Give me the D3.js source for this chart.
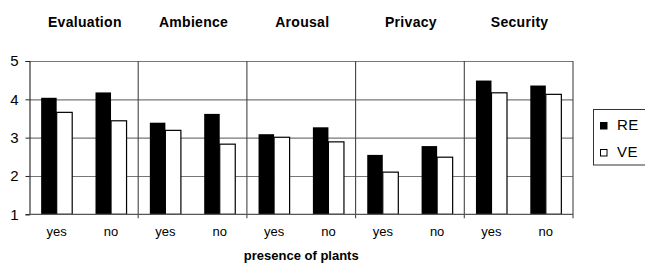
<!DOCTYPE html>
<html>
<head>
<meta charset="utf-8">
<script src="https://cdn.jsdelivr.net/npm/d3@7"></script>
<style>
  body { margin: 0; background: #fff; }
  svg { font-family: "Liberation Sans", Arial, sans-serif; }
</style>
</head>
<body>
<div id="chart"></div>
<script>
// chart data
var groups = ['Evaluation', 'Ambience', 'Arousal', 'Privacy', 'Security'];
var levels = ['yes', 'no'];
var seriesNames = ['RE', 'VE'];
var reValues = [4.04, 4.18, 3.39, 3.62, 3.09, 3.27, 2.55, 2.78, 4.49, 4.36];
var veValues = [3.66, 3.44, 3.19, 2.83, 3.01, 2.89, 2.10, 2.49, 4.17, 4.13];
var yTicks = [1, 2, 3, 4, 5];
var xTitle = 'presence of plants';

var width = 645, height = 263;
var plot = { left: 29.5, right: 573, top: 61, bottom: 214.3 };

var svg = d3.select('#chart')
  .append('svg')
  .attr('width', width)
  .attr('height', height);

var x0 = d3.scaleBand().domain(groups).range([plot.left, plot.right]);
var x1 = d3.scaleBand().domain(levels).range([0, x0.bandwidth()]);
var x2 = d3.scaleBand().domain(seriesNames).range([0, x1.bandwidth()])
  .paddingInner(0).paddingOuter(0.75);
var y = d3.scaleLinear().domain([1, 5]).range([plot.bottom, plot.top]);

// flatten into one row per bar
var rows = [];
groups.forEach(function(g, gi) {
  levels.forEach(function(l, li) {
    var i = gi * levels.length + li;
    rows.push({ group: g, level: l, series: 'RE', value: reValues[i] });
    rows.push({ group: g, level: l, series: 'VE', value: veValues[i] });
  });
});

// horizontal gridlines
var grid = svg.append('g')
  .attr('transform', 'translate(' + plot.left + ',0)')
  .call(d3.axisLeft(y).tickValues(yTicks.slice(1)).tickSize(-(plot.right - plot.left)).tickFormat(''));
grid.select('.domain').remove();
grid.selectAll('line').attr('stroke', '#777').attr('stroke-width', 1.2);

// vertical separators between groups (and right edge)
svg.append('g').selectAll('line')
  .data(groups)
  .enter()
  .append('line')
  .attr('x1', function(d) { return x0(d) + x0.bandwidth(); })
  .attr('x2', function(d) { return x0(d) + x0.bandwidth(); })
  .attr('y1', plot.top)
  .attr('y2', plot.bottom + 4)
  .attr('stroke', '#444')
  .attr('stroke-width', 1.1);

// bars
svg.append('g').selectAll('rect')
  .data(rows)
  .enter()
  .append('rect')
  .attr('x', function(d) { return x0(d.group) + x1(d.level) + x2(d.series); })
  .attr('width', x2.bandwidth())
  .attr('y', function(d) { return y(d.value); })
  .attr('height', function(d) { return y(1) - y(d.value); })
  .attr('fill', function(d) { return d.series === 'RE' ? '#000' : '#fff'; })
  .attr('stroke', '#000')
  .attr('stroke-width', function(d) { return d.series === 'RE' ? 0 : 1.2; });

// y axis
var yAxis = svg.append('g')
  .attr('transform', 'translate(' + plot.left + ',0)')
  .call(d3.axisLeft(y).tickValues(yTicks).tickSize(4).tickPadding(7).tickFormat(d3.format('d')));
yAxis.select('.domain').attr('stroke', '#222').attr('stroke-width', 1.1);
yAxis.selectAll('line').attr('stroke', '#222');
yAxis.selectAll('text')
  .style('font-size', '15px')
  .attr('fill', '#000');

// bottom axis line
svg.append('line')
  .attr('x1', plot.left).attr('x2', plot.right)
  .attr('y1', plot.bottom).attr('y2', plot.bottom)
  .attr('stroke', '#555').attr('stroke-width', 1.2);

// yes / no labels per group
groups.forEach(function(g) {
  var ax = svg.append('g')
    .attr('transform', 'translate(' + x0(g) + ',' + plot.bottom + ')')
    .call(d3.axisBottom(x1).tickSize(0).tickPadding(12.5));
  ax.select('.domain').remove();
  ax.selectAll('text').style('font-size', '13px').attr('fill', '#000');
});

// group titles
svg.append('g').selectAll('text')
  .data(groups)
  .enter()
  .append('text')
  .attr('x', function(d) { return x0(d) + x0.bandwidth() / 2 + 1; })
  .attr('y', 27)
  .attr('text-anchor', 'middle')
  .style('font-size', '14px')
  .style('font-weight', 'bold')
  .style('letter-spacing', '0.3px')
  .text(function(d) { return d; });

// x title
svg.append('text')
  .attr('x', (plot.left + plot.right) / 2)
  .attr('y', 259.5)
  .attr('text-anchor', 'middle')
  .style('font-size', '13px')
  .style('font-weight', 'bold')
  .text(xTitle);

// legend
var legend = svg.append('g').attr('transform', 'translate(593.5,109.5)');
legend.append('rect')
  .attr('width', 60).attr('height', 55.5)
  .attr('fill', '#fff').attr('stroke', '#333').attr('stroke-width', 1);
var item = legend.selectAll('.item')
  .data(seriesNames)
  .enter()
  .append('g')
  .attr('transform', function(d, i) { return 'translate(7,' + (13 + i * 27) + ')'; });
item.append('rect')
  .attr('width', 6.5).attr('height', 6.5)
  .attr('fill', function(d) { return d === 'RE' ? '#000' : '#fff'; })
  .attr('stroke', '#000').attr('stroke-width', 1);
item.append('text')
  .attr('x', 16.5)
  .attr('y', 7.5)
  .style('font-size', '15px')
  .style('letter-spacing', '0.5px')
  .text(function(d) { return d; });
</script>
</body>
</html>
